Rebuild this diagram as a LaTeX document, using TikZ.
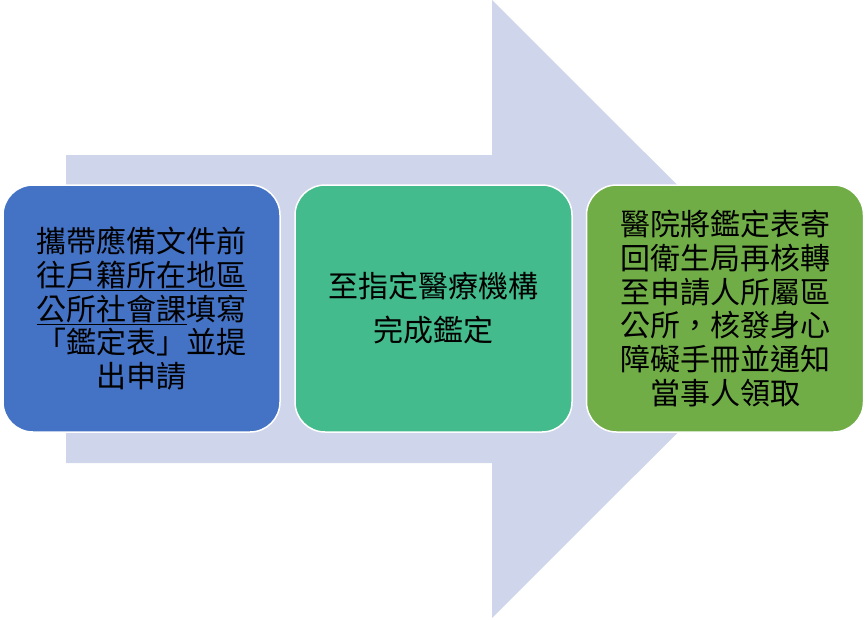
\documentclass[tikz,border=0pt]{standalone}
\usepackage{fontspec}
\newfontfamily\cjk{Noto Sans CJK TC}
\definecolor{arrowc}{HTML}{CFD5EA}
\definecolor{boxa}{HTML}{4472C4}
\definecolor{boxb}{HTML}{44BB8C}
\definecolor{boxc}{HTML}{70AD47}
\tikzset{
  stepbox/.style={draw=white, line width=1.5pt, rounded corners=30pt,
    minimum width=277pt, minimum height=247pt, inner sep=0pt, align=center,
    text=black, font=\cjk\fontsize{30}{33.7}\selectfont},
  bigarrow/.style={fill=arrowc}
}
\begin{document}
\begin{tikzpicture}[x=1pt,y=-1pt]
\useasboundingbox (0,0) rectangle (867,619);
\fill[bigarrow] (66,155) -- (492,155) -- (492,0) -- (801.5,309) -- (492,618) -- (492,463) -- (66,463) -- cycle;
\node[stepbox, fill=boxa] (s1) at (141.5,308.5)
  {攜帶應備文件前\\往\underline{戶籍所在地區}\\\underline{公所社會課}填寫\\「鑑定表」並提\\出申請};
\node[stepbox, fill=boxb, font=\cjk\fontsize{30}{44}\selectfont] (s2) at (433.5,308.5)
  {至指定醫療機構\\完成鑑定};
\node[stepbox, fill=boxc] (s3) at (725,308.5)
  {醫院將鑑定表寄\\回衛生局再核轉\\至申請人所屬區\\公所，核發身心\\障礙手冊並通知\\當事人領取};
\end{tikzpicture}
\end{document}
